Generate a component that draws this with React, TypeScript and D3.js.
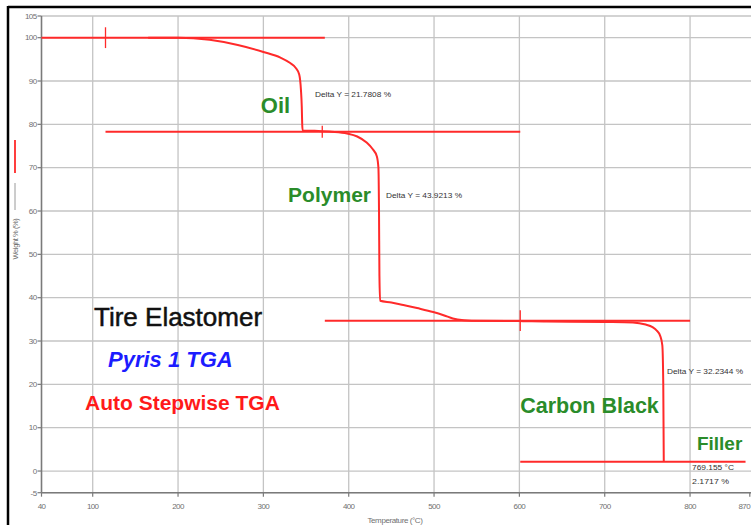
import React from "react";
import * as d3 from "d3";

const W = 751;
const H = 525;

// TGA curve (Temperature °C, Weight %)
const curveTemp = [165, 200, 237, 270, 300, 320, 331, 338, 342, 344, 345, 345.5, 346, 360, 380, 398, 410, 421, 428, 433, 434.8, 435.5, 436, 436.8, 450, 464, 480, 499, 512, 522, 535, 544, 600, 632, 700, 733, 748, 756, 761, 765, 767.5, 768.6, 769.2];
const curveWeight = [100, 100, 99.5, 98.3, 96.7, 95.4, 94.2, 93, 91.5, 88, 84, 80, 78.6, 78.5, 78.3, 77.9, 77.2, 75.8, 74.3, 72.6, 70, 60, 45, 39.3, 38.9, 38.3, 37.6, 36.7, 35.9, 35.2, 34.8, 34.7, 34.6, 34.5, 34.4, 34.3, 33.8, 33.2, 32.4, 31.2, 29, 20, 2.2];

// Step reference lines
const stepLevels = [100, 78.3, 34.7, 2.17];
const stepStarts = [40, 115, 372, 601];
const stepEnds = [372, 601, 800, 865];

// Small vertical markers on step lines
const markerTemps = [115, 369, 601];
const markerLevels = [100, 78.3, 34.7];
const markerHalf = [2.4, 1.4, 2.4];

const yTicks = [105, 100, 90, 80, 70, 60, 50, 40, 30, 20, 10, 0, -5];
const xTicks = [40, 100, 200, 300, 400, 500, 600, 700, 800, 870];

const deltaLabels = ["Delta Y = 21.7808 %", "Delta Y = 43.9213 %", "Delta Y = 32.2344 %"];
const deltaTemps = [360.5, 443.7, 773];
const deltaWeights = [86.4, 62.9, 22.4];

const stageLabels = ["Oil", "Polymer", "Carbon Black", "Filler"];
const stageTemps = [297, 329, 601, 808];
const stageWeights = [82.6, 62.1, 13.4, 4.85];
const stageSizes = [22, 21, 21.5, 19];

const endLabels = ["769.155 °C", "2.1717 %"];
const endTemp = 802.3;
const endWeights = [0.2, -3.1];

export default function App() {
  const x = d3.scaleLinear().domain([40, 870]).range([41.5, 749.8]);
  const y = d3.scaleLinear().domain([-5, 105]).range([492.7, 16]);

  const pts: [number, number][] = curveTemp.map((t, i) => [t, curveWeight[i]]);
  const line = d3
    .line<[number, number]>()
    .x((d) => x(d[0]))
    .y((d) => y(d[1]))
    .curve(d3.curveMonotoneX);

  const red = "#ff2a2a";
  const green = "#2a8c2a";
  const grid = "#c4c4c4";
  const tickFont = "'Liberation Sans', Arial, sans-serif";

  return (
    <svg
      width={W}
      height={H}
      style={{ position: "absolute", left: 0, top: 0, background: "#fff" }}
      fontFamily={tickFont}
    >
      <rect x={0} y={0} width={W} height={H} fill="#fff" />
      {/* frame */}
      <line x1={8} y1={7} x2={W} y2={7} stroke="#000" strokeWidth={2.5} />
      <line x1={8} y1={6} x2={8} y2={H} stroke="#000" strokeWidth={2.5} />

      {/* grid */}
      {yTicks.map((v) => (
        <line key={"gy" + v} x1={x(40)} x2={W} y1={y(v)} y2={y(v)} stroke={grid} strokeWidth={1.3} />
      ))}
      {xTicks.filter((v) => v > 40 && v < 870).map((v) => (
        <line key={"gx" + v} x1={x(v)} x2={x(v)} y1={y(105)} y2={y(-5)} stroke={grid} strokeWidth={1.3} />
      ))}

      {/* axes */}
      <line x1={x(40)} x2={x(40)} y1={y(105)} y2={y(-5)} stroke="#7a7a7a" strokeWidth={1.6} />
      <line x1={x(40)} x2={W} y1={y(-5)} y2={y(-5)} stroke="#7a7a7a" strokeWidth={1.6} />
      {yTicks.map((v) => (
        <g key={"ty" + v}>
          <line x1={x(40) - 4} x2={x(40)} y1={y(v)} y2={y(v)} stroke="#7a7a7a" strokeWidth={1.2} />
          <text x={x(40) - 5} y={y(v)} dy="0.35em" textAnchor="end" fontSize={8} fill="#707070" letterSpacing={-0.6}>
            {v}
          </text>
        </g>
      ))}
      {xTicks.map((v, i) => {
        const last = i === xTicks.length - 1;
        return (
          <g key={"tx" + v}>
            <line x1={x(v)} x2={x(v)} y1={y(-5)} y2={y(-5) + 4} stroke="#7a7a7a" strokeWidth={1.2} />
            <text
              x={last ? W - 1 : x(v)}
              y={y(-5) + 16}
              textAnchor={last ? "end" : "middle"}
              fontSize={8}
              fill="#707070"
              letterSpacing={-0.6}
            >
              {v}
            </text>
          </g>
        );
      })}
      <text x={395} y={523} textAnchor="middle" fontSize={8} fill="#707070" letterSpacing={-0.4}>
        Temperature (°C)
      </text>

      {/* y title */}
      <line x1={15} x2={15} y1={140} y2={173} stroke={red} strokeWidth={1.8} />
      <line x1={15} x2={15} y1={183} y2={210} stroke="#9a9a9a" strokeWidth={1} />
      <text transform="translate(18,239) rotate(-90)" textAnchor="middle" fontSize={7.5} fill="#707070" letterSpacing={-0.4}>
        Weight % (%)
      </text>

      {/* step lines */}
      {stepLevels.map((lv, i) => (
        <line key={"st" + i} x1={x(stepStarts[i])} x2={x(stepEnds[i])} y1={y(lv)} y2={y(lv)} stroke={red} strokeWidth={2} />
      ))}
      {markerTemps.map((t, i) => (
        <line
          key={"mk" + i}
          x1={x(t)}
          x2={x(t)}
          y1={y(markerLevels[i] + markerHalf[i])}
          y2={y(markerLevels[i] - markerHalf[i])}
          stroke={red}
          strokeWidth={1.3}
        />
      ))}

      {/* curve */}
      <path d={line(pts) || ""} fill="none" stroke={red} strokeWidth={2} />

      {/* delta annotations */}
      {deltaLabels.map((s, i) => (
        <text key={"dl" + i} x={x(deltaTemps[i])} y={y(deltaWeights[i])} fontSize={7.5} fill="#333" textLength={76} lengthAdjust="spacingAndGlyphs">
          {s}
        </text>
      ))}
      {endLabels.map((s, i) => (
        <text key={"el" + i} x={x(endTemp)} y={y(endWeights[i])} fontSize={7.5} fill="#333" textLength={i === 0 ? 42 : 37} lengthAdjust="spacingAndGlyphs">
          {s}
        </text>
      ))}

      {/* stage labels */}
      {stageLabels.map((s, i) => (
        <text
          key={"sl" + i}
          x={x(stageTemps[i])}
          y={y(stageWeights[i])}
          fontSize={stageSizes[i]}
          fontWeight="bold"
          fill={green}
        >
          {s}
        </text>
      ))}

      {/* title block */}
      <text x={94} y={326} fontSize={26} fill="#111" stroke="#111" strokeWidth={0.5}>
        Tire Elastomer
      </text>
      <text x={108} y={367} fontSize={22} fontWeight="bold" fontStyle="italic" fill="#1c1cff">
        Pyris 1 TGA
      </text>
      <text x={85} y={410} fontSize={21} fontWeight="bold" fill="#ff1a1a">
        Auto Stepwise TGA
      </text>
    </svg>
  );
}
